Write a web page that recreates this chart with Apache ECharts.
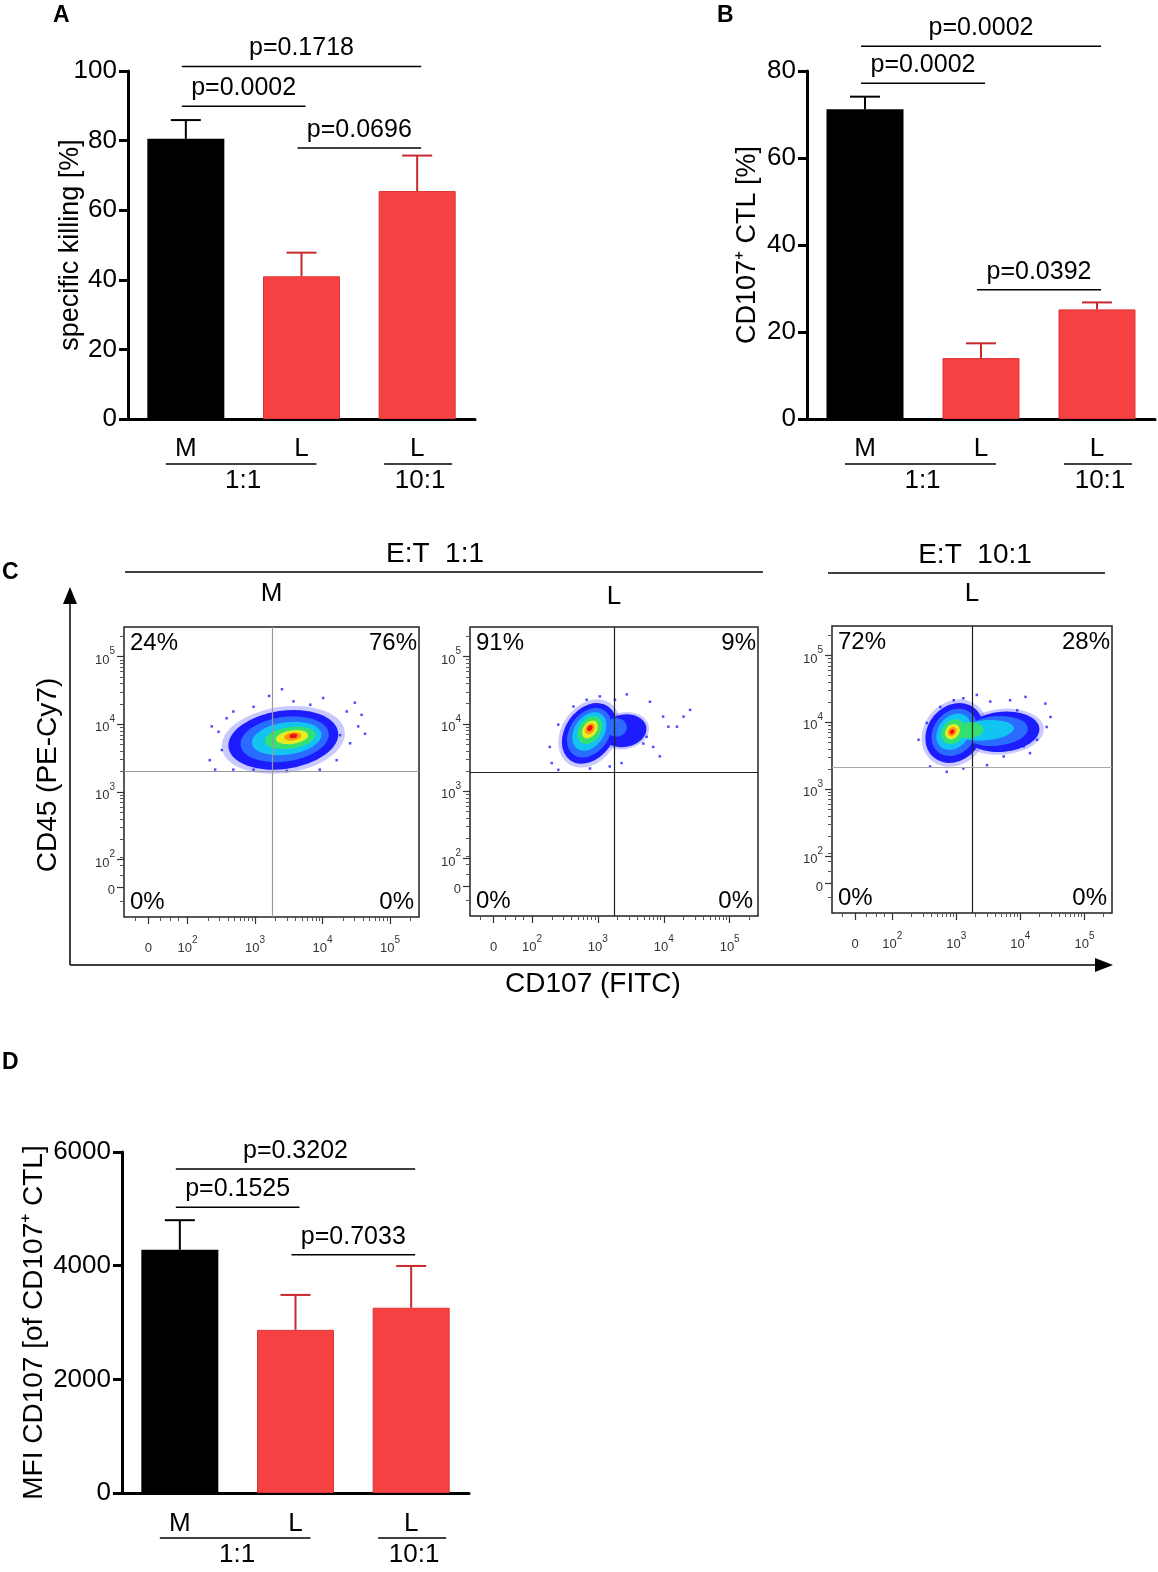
<!DOCTYPE html>
<html>
<head>
<meta charset="utf-8">
<script src="https://cdn.jsdelivr.net/npm/echarts@6/dist/echarts.min.js"></script>
<style>
html, body { margin: 0; padding: 0; background: #fff; }
#main { width: 1158px; height: 1572px; }
</style>
</head>
<body>
<div id="main"></div>
<script>
// ---- data ----
var categories = ['M', 'L', 'L'];
var killMean = [80.5, 41.0, 65.5];
var killErr = [5.4, 6.8, 10.2];
var cd107Mean = [71.2, 14.0, 25.2];
var cd107Err = [2.9, 3.4, 1.6];
var mfiMean = [4280, 2870, 3260];
var mfiErr = [520, 615, 735];
// [from category, to category, bracket height, text]
var killP = [[0, 2, 101.3, 'p=0.1718'], [0, 1, 89.9, 'p=0.0002'], [1, 2, 77.9, 'p=0.0696']];
var cd107P = [[0, 2, 85.7, 'p=0.0002'], [0, 1, 77.2, 'p=0.0002'], [1, 2, 29.7, 'p=0.0392']];
var mfiP = [[0, 2, 5700, 'p=0.3202'], [0, 1, 5030, 'p=0.1525'], [1, 2, 4190, 'p=0.7033']];
var ratioGroups = [[0, 1, '1:1'], [2, 2, '10:1']];

// flow plots, axis units = decades on the biexponential display
var flowTicks = [2, 3, 4, 5];
var flowXZero = 1.42;
var flowYZero = 1.59;
var flowTitles = ['M', 'L', 'L'];
var gateX = [3.25, 3.25, 3.25];
var gateY = [3.31, 3.29, 3.33];
var quadPct = [['24%', '76%', '0%', '0%'], ['91%', '9%', '0%', '0%'], ['72%', '28%', '0%', '0%']];
// density contours: [x, y, half width, half height, tilt deg, density level]
var cloudM = [
    [3.42, 3.77, 0.82, 0.43, 8, 0],
    [3.44, 3.78, 0.66, 0.33, 8, 1],
    [3.47, 3.79, 0.52, 0.24, 8, 2],
    [3.52, 3.80, 0.38, 0.16, 8, 3],
    [3.55, 3.81, 0.24, 0.10, 8, 4],
    [3.56, 3.82, 0.13, 0.06, 8, 5],
    [3.57, 3.83, 0.06, 0.035, 8, 6]
];
var cloudL1 = [
    [2.87, 3.86, 0.50, 0.36, 55, 0],
    [3.40, 3.90, 0.34, 0.24, 10, 0],
    [2.87, 3.87, 0.41, 0.29, 55, 1],
    [3.28, 3.95, 0.16, 0.14, 0, 1],
    [2.87, 3.89, 0.32, 0.22, 55, 2],
    [2.88, 3.91, 0.23, 0.16, 55, 3],
    [2.88, 3.92, 0.15, 0.10, 55, 4],
    [2.88, 3.93, 0.09, 0.065, 55, 5],
    [2.88, 3.94, 0.05, 0.035, 55, 6]
];
var cloudL10 = [
    [2.97, 3.84, 0.50, 0.40, 50, 0],
    [3.72, 3.86, 0.58, 0.30, 5, 0],
    [2.97, 3.85, 0.40, 0.31, 50, 1],
    [3.62, 3.87, 0.50, 0.22, 5, 1],
    [2.96, 3.86, 0.31, 0.23, 50, 2],
    [3.45, 3.88, 0.45, 0.15, 5, 2],
    [2.95, 3.86, 0.21, 0.16, 50, 3],
    [3.20, 3.88, 0.22, 0.12, 5, 3],
    [2.94, 3.86, 0.13, 0.10, 50, 4],
    [2.935, 3.86, 0.08, 0.06, 50, 5],
    [2.935, 3.86, 0.04, 0.03, 50, 6]
];
// sparse events around the clouds
var sparseM = [[3.21, 4.42], [3.40, 4.52], [4.01, 4.39], [4.48, 4.32], [4.58, 4.14], [4.63, 3.86], [4.53, 3.97],
    [2.36, 3.97], [2.46, 3.89], [2.33, 3.47], [2.41, 3.33], [2.58, 4.09], [2.68, 4.19], [2.98, 4.26], [3.57, 4.34],
    [3.82, 4.29], [4.36, 4.19], [4.41, 3.72], [4.21, 3.47], [3.96, 3.33], [3.47, 3.31], [2.98, 3.33], [2.68, 3.33],
    [4.26, 3.84], [2.51, 3.62]];
var sparseL1 = [[3.03, 4.41], [3.44, 4.44], [3.26, 4.36], [3.79, 4.33], [3.99, 4.11], [4.20, 3.96], [4.40, 4.21],
    [4.30, 4.11], [3.84, 3.66], [3.94, 3.52], [3.69, 3.71], [3.36, 3.42], [3.18, 3.37], [2.88, 3.34], [2.40, 3.32],
    [2.30, 3.42], [2.27, 3.66], [2.40, 3.99], [2.63, 4.26], [2.83, 4.36], [3.59, 3.96], [3.49, 4.06], [4.07, 3.96],
    [3.74, 3.81]];
var sparseL10 = [[3.11, 4.36], [3.32, 4.41], [3.53, 4.31], [3.84, 4.33], [4.08, 4.38], [4.39, 4.28], [4.47, 4.08],
    [4.41, 3.93], [4.26, 3.74], [4.05, 3.64], [3.74, 3.49], [3.48, 3.36], [3.11, 3.31], [2.85, 3.26], [2.59, 3.34],
    [2.41, 3.74], [2.54, 3.99], [2.75, 4.23], [2.96, 4.33], [4.15, 3.54], [3.95, 4.18]];

// ---- layout / style ----
var FONT = '"Liberation Sans", Arial, Helvetica, sans-serif';
var RED = '#f54141';
var RED_ERR = '#c8282e';
var barGrids = [
    {left: 128, top: 71, width: 347, height: 348},
    {left: 807, top: 71, width: 348, height: 348},
    {left: 122, top: 1152, width: 347, height: 341}
];
var flowGrids = [
    {left: 124, top: 627, width: 295, height: 290},
    {left: 470, top: 627, width: 288, height: 289},
    {left: 832, top: 626, width: 280, height: 287}
];
var cloudColors = ['#1c1cff', '#2a6cff', '#12c4f2', '#34e070', '#e6ee22', '#ff9a12', '#ee1212'];
var gateColors = [['#9a9a9a', '#9a9a9a'], ['#222', '#222'], ['#222', '#a8a8a8']];

var barPanels = [
    {means: killMean, errs: killErr, brackets: killP, max: 100, interval: 20, name: 'specific killing [%]', gap: 44, nameSize: 27, catMargin: 17},
    {means: cd107Mean, errs: cd107Err, brackets: cd107P, max: 80, interval: 20, name: 'CD107\u207a CTL [%]', gap: 46, nameSize: 27, catMargin: 17},
    {means: mfiMean, errs: mfiErr, brackets: mfiP, max: 6000, interval: 2000, name: 'MFI CD107 [of CD107\u207a CTL]', gap: 74, nameSize: 28, catMargin: 18}
];

var chart = echarts.init(document.getElementById('main'));

var grids = [], xAxes = [], yAxes = [], series = [];

barPanels.forEach(function (p, i) {
    grids.push(barGrids[i]);
    xAxes.push({
        type: 'category', gridIndex: i, data: categories,
        axisLine: {lineStyle: {color: '#000', width: 3}},
        axisTick: {alignWithLabel: true, length: 10, lineStyle: {color: '#000', width: 3}},
        axisLabel: {fontSize: 26, color: '#000', fontFamily: FONT, margin: p.catMargin}
    });
    yAxes.push({
        type: 'value', gridIndex: i, min: 0, max: p.max, interval: p.interval,
        name: p.name, nameLocation: 'middle', nameGap: p.gap, nameRotate: 90, nameMoveOverlap: false,
        nameTextStyle: {fontSize: p.nameSize, color: '#000', fontFamily: FONT},
        axisLine: {show: true, lineStyle: {color: '#000', width: 3}},
        axisTick: {show: true, length: 9, lineStyle: {color: '#000', width: 3}},
        axisLabel: {fontSize: 26, color: '#000', fontFamily: FONT, margin: 11,
            formatter: function (v) { return String(v); }},
        splitLine: {show: false}
    });
    series.push({
        type: 'bar', xAxisIndex: i, yAxisIndex: i, barWidth: 77, silent: true,
        data: p.means.map(function (v, k) {
            return {value: v, itemStyle: k === 0 ? {color: '#000'} : {color: RED, borderColor: '#dc3434', borderWidth: 1}};
        })
    });
    series.push({
        type: 'custom', xAxisIndex: i, yAxisIndex: i, silent: true, z: 3,
        data: p.means.map(function (v, k) { return [k, v, v + p.errs[k]]; }),
        renderItem: function (params, api) {
            var b = api.coord([api.value(0), api.value(1)]);
            var t = api.coord([api.value(0), api.value(2)]);
            var c = params.dataIndex === 0 ? '#000' : RED_ERR;
            return {
                type: 'group', children: [
                    {type: 'line', shape: {x1: b[0], y1: b[1], x2: t[0], y2: t[1]}, style: {stroke: c, lineWidth: 2}},
                    {type: 'line', shape: {x1: t[0] - 15, y1: t[1], x2: t[0] + 15, y2: t[1]}, style: {stroke: c, lineWidth: 2}}
                ]
            };
        }
    });
});

function flowLabel(v) {
    if (v < 1.8) return '{b|0}';
    return '{b|10}{s|' + Math.round(v) + '}';
}
function minorTicks(zero) {
    var t = [zero - 0.2, zero + 0.18, zero + 0.33, zero + 0.45];
    for (var n = 2; n <= 5; n++) {
        for (var k = 2; k <= 9; k++) {
            var v = n + Math.log10(k);
            if (v < 5.42) t.push(v);
        }
    }
    return t;
}
var flowRich = {
    b: {fontSize: 13, color: '#333', fontFamily: FONT, lineHeight: 20, verticalAlign: 'bottom'},
    s: {fontSize: 10, color: '#333', fontFamily: FONT, lineHeight: 20, verticalAlign: 'top'}
};

var clouds = [cloudM, cloudL1, cloudL10];
var sparse = [sparseM, sparseL1, sparseL10];

flowGrids.forEach(function (g, p) {
    var gi = 3 + p;
    grids.push({left: g.left, top: g.top, width: g.width, height: g.height, show: true,
        borderColor: '#222', borderWidth: 1.5, backgroundColor: 'transparent'});
    var xMajor = [flowXZero].concat(flowTicks);
    var yMajor = [flowYZero].concat(flowTicks);
    xAxes.push({
        type: 'value', gridIndex: gi, min: 1.06, max: 5.43, position: 'bottom', offset: 0,
        axisLine: {show: false}, splitLine: {show: false},
        axisTick: {show: true, customValues: xMajor, length: 7, lineStyle: {color: '#333', width: 1.2}},
        axisLabel: {show: true, customValues: xMajor, formatter: flowLabel, rich: flowRich, margin: 18}
    });
    xAxes.push({
        type: 'value', gridIndex: gi, min: 1.06, max: 5.43, position: 'bottom', offset: 0,
        axisLine: {show: false}, splitLine: {show: false},
        axisTick: {show: true, customValues: minorTicks(flowXZero), length: 4, lineStyle: {color: '#555', width: 1}},
        axisLabel: {show: false}
    });
    yAxes.push({
        type: 'value', gridIndex: gi, min: 1.15, max: 5.44, position: 'left', offset: 0,
        axisLine: {show: false}, splitLine: {show: false},
        axisTick: {show: true, customValues: yMajor, length: 7, lineStyle: {color: '#333', width: 1.2}},
        axisLabel: {show: true, customValues: yMajor, formatter: flowLabel, rich: flowRich, margin: 9}
    });
    yAxes.push({
        type: 'value', gridIndex: gi, min: 1.15, max: 5.44, position: 'left', offset: 0,
        axisLine: {show: false}, splitLine: {show: false},
        axisTick: {show: true, customValues: minorTicks(flowYZero), length: 4, lineStyle: {color: '#555', width: 1}},
        axisLabel: {show: false}
    });
    var ax = 3 + 2 * p;
    series.push({
        type: 'scatter', xAxisIndex: ax, yAxisIndex: ax, silent: true, z: 2,
        symbol: 'rect', symbolSize: 2.5, itemStyle: {color: '#2020ff'},
        data: sparse[p]
    });
    series.push({
        type: 'custom', xAxisIndex: ax, yAxisIndex: ax, silent: true, z: 3,
        data: clouds[p],
        renderItem: function (params, api) {
            var c = api.coord([api.value(0), api.value(1)]);
            var s = api.size([api.value(2), api.value(3)]);
            var lvl = api.value(5);
            var kids = [];
            if (lvl === 0) {
                // soft fringe of sparse events
                kids.push({type: 'circle', shape: {cx: 0, cy: 0, r: 10},
                    scaleX: s[0] * 1.12 / 10, scaleY: s[1] * 1.14 / 10,
                    style: {fill: 'rgba(40,40,255,0.25)'}});
            }
            kids.push({type: 'circle', shape: {cx: 0, cy: 0, r: 10},
                scaleX: s[0] / 10, scaleY: s[1] / 10,
                style: {fill: cloudColors[lvl]}});
            return {type: 'group', x: c[0], y: c[1], rotation: api.value(4) * Math.PI / 180, children: kids};
        }
    });
    series.push({
        type: 'line', xAxisIndex: ax, yAxisIndex: ax, silent: true, z: 4, data: [],
        markLine: {
            silent: true, symbol: ['none', 'none'], label: {show: false},
            data: [
                {xAxis: gateX[p], lineStyle: {color: gateColors[p][0], width: 1.2, type: 'solid'}},
                {yAxis: gateY[p], lineStyle: {color: gateColors[p][1], width: 1.2, type: 'solid'}}
            ]
        }
    });
});

chart.setOption({
    animation: false,
    backgroundColor: '#fff',
    textStyle: {fontFamily: FONT},
    grid: grids,
    xAxis: xAxes,
    yAxis: yAxes,
    series: series
});

// ---- annotations: brackets, group lines, panel letters, panel C frame ----
var gfx = [];
function txt(x, y, s, size, opt) {
    opt = opt || {};
    gfx.push({
        type: 'text', x: x, y: y, rotation: opt.rot || 0, silent: true,
        style: {text: s, fill: '#000', font: (opt.bold ? 'bold ' : '') + size + 'px ' + FONT,
            textAlign: opt.align || 'center', textVerticalAlign: 'middle'}
    });
}
function seg(x1, y1, x2, y2, w, c) {
    gfx.push({type: 'line', silent: true, shape: {x1: x1, y1: y1, x2: x2, y2: y2},
        style: {stroke: c || '#000', lineWidth: w || 1.5}});
}

barPanels.forEach(function (p, i) {
    function pt(c, v) { return chart.convertToPixel({gridIndex: i}, [c, v]); }
    p.brackets.forEach(function (b) {
        var a = pt(b[0], b[2]), e = pt(b[1], b[2]);
        seg(a[0] - 4, a[1], e[0] + 4, a[1], 1.5);
        txt((a[0] + e[0]) / 2, a[1] - 18, b[3], 25);
    });
    var base = barGrids[i].top + barGrids[i].height + 45;
    ratioGroups.forEach(function (r) {
        var a = pt(r[0], 0), e = pt(r[1], 0);
        var x1 = r[0] === r[1] ? a[0] - 33 : a[0] - 20;
        var x2 = r[0] === r[1] ? e[0] + 35 : e[0] + 15;
        seg(x1, base, x2, base, 1.5);
        txt((x1 + x2) / 2 + 2, base + 17, r[2], 26);
    });
});

txt(53, 16, 'A', 23, {bold: true, align: 'left'});
txt(717, 16, 'B', 23, {bold: true, align: 'left'});
txt(2, 573, 'C', 23, {bold: true, align: 'left'});
txt(2, 1063, 'D', 23, {bold: true, align: 'left'});

// panel C headers
seg(125, 572, 763, 572, 1.5);
txt(435, 554, 'E:T  1:1', 28);
seg(828, 573, 1105, 573, 1.5);
txt(975, 555, 'E:T  10:1', 28);
flowGrids.forEach(function (g, p) {
    txt(g.left + g.width / 2, p === 1 ? 597 : 594, flowTitles[p], 26);
    var q = quadPct[p];
    txt(g.left + 6, g.top + 16, q[0], 24, {align: 'left'});
    txt(g.left + g.width - 2, g.top + 16, q[1], 24, {align: 'right'});
    txt(g.left + 6, g.top + g.height - 15, q[2], 24, {align: 'left'});
    txt(g.left + g.width - 5, g.top + g.height - 15, q[3], 24, {align: 'right'});
});
// panel C outer axes with arrows
seg(70, 965, 70, 602, 1.5);
gfx.push({type: 'polygon', silent: true, shape: {points: [[63, 604], [77, 604], [70, 587]]}, style: {fill: '#000'}});
seg(70, 965, 1097, 965, 1.5);
gfx.push({type: 'polygon', silent: true, shape: {points: [[1095, 958], [1095, 972], [1113, 965]]}, style: {fill: '#000'}});
txt(48, 775, 'CD45 (PE-Cy7)', 28, {rot: Math.PI / 2});
txt(593, 984, 'CD107 (FITC)', 28);

chart.setOption({graphic: {elements: gfx}});
</script>
</body>
</html>
